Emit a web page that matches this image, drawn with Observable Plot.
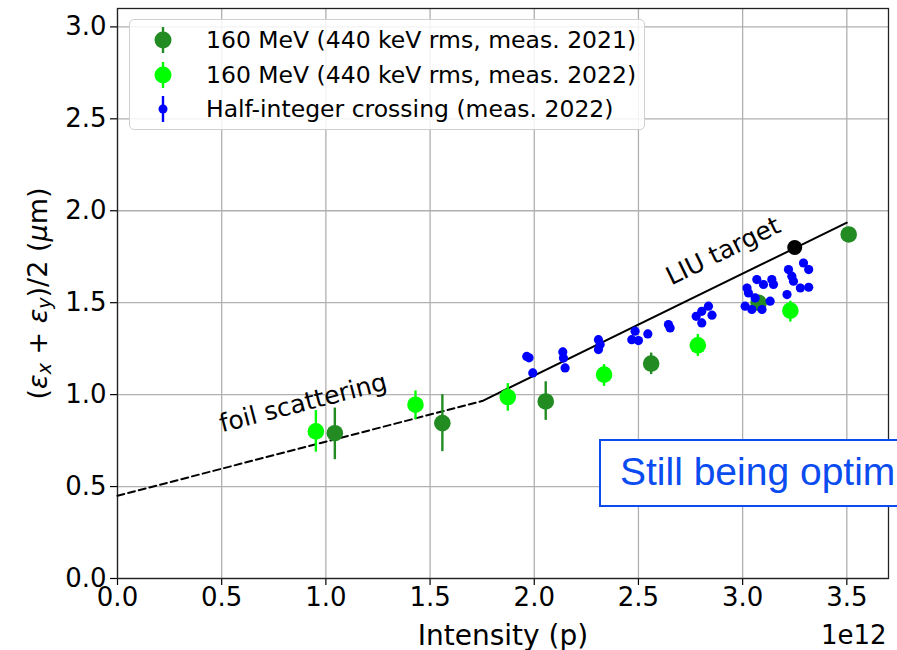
<!DOCTYPE html>
<html><head><meta charset="utf-8">
<script src="https://cdn.jsdelivr.net/npm/d3@7"></script>
<script src="https://cdn.jsdelivr.net/npm/@observablehq/plot@0.6"></script>
<style>
html,body{margin:0;padding:0;background:#fff;overflow:hidden;}
#wrap{position:relative;width:897px;height:650px;overflow:hidden;font-family:"DejaVu Sans",sans-serif;}
#legend{position:absolute;left:129px;top:19px;width:516px;height:111px;border:1.3px solid #d0d0d0;border-radius:5px;background:rgba(255,255,255,0.85);box-sizing:border-box;}
.row{position:absolute;left:0;height:30px;display:flex;align-items:center;font-size:23.5px;color:#000;white-space:nowrap;}
.row svg{width:40px;height:30px;margin-left:13px;margin-right:23px;}
#note{position:absolute;left:599px;top:439px;width:400px;height:68px;border:2px solid #0a4cf0;border-right:none;background:#fff;box-sizing:border-box;font-family:"Liberation Sans",Arial,sans-serif;font-size:39px;color:#0a4cf0;line-height:62px;padding-left:19px;white-space:nowrap;}
</style></head>
<body><div id="wrap"></div>
<script>
// ---- data (intensity in 1e12 p, emittance in um) ----
const g21I  = [1.043, 1.559, 2.055, 2.561, 3.077, 3.509];
const g21E  = [0.790, 0.845, 0.963, 1.169, 1.499, 1.871];
const g21Lo = [0.646, 0.690, 0.860, 1.109, 1.460, 1.871];
const g21Hi = [0.927, 1.000, 1.070, 1.226, 1.540, 1.871];

const g22I  = [0.952, 1.430, 1.873, 2.335, 2.785, 3.229];
const g22E  = [0.800, 0.945, 0.987, 1.109, 1.268, 1.457];
const g22Lo = [0.687, 0.864, 0.910, 1.045, 1.208, 1.395];
const g22Hi = [0.913, 1.020, 1.060, 1.163, 1.327, 1.508];

const hiI = [1.964,1.975,1.993,2.137,2.140,2.148,2.308,2.316,2.308,2.484,2.468,2.500,2.545,2.644,2.652,
             2.777,2.804,2.836,2.853,2.804,3.021,3.068,3.028,3.060,3.012,3.044,3.093,3.100,3.140,3.148,
             3.132,3.220,3.236,3.244,3.213,3.292,3.317,3.277,3.317];
const hiE = [1.208,1.200,1.118,1.232,1.199,1.145,1.299,1.272,1.245,1.345,1.299,1.294,1.330,1.381,1.363,
             1.426,1.453,1.481,1.432,1.390,1.580,1.626,1.553,1.526,1.481,1.463,1.463,1.599,1.626,1.599,
             1.508,1.680,1.644,1.617,1.544,1.716,1.680,1.580,1.584];
const hiErr = 0.02;

const foilI = [0, 1.75];
const foilE = [0.45, 0.965];
const liuI  = [1.75, 3.5];
const liuE  = [0.965, 1.935];
const liuPointI = [3.25];
const liuPointE = [1.80];

const xTicks = [0, 0.5, 1.0, 1.5, 2.0, 2.5, 3.0, 3.5];
const yTicks = [0, 0.5, 1.0, 1.5, 2.0, 2.5, 3.0];

const annotations = [
  {x: 0.891, y: 0.954, text: "foil scattering", rotate: -14.5},
  {x: 2.907, y: 1.780, text: "LIU target", rotate: -26}
];

const legendItems = [
  {label: "160 MeV (440 keV rms, meas. 2021)", color: "#228B22", r: 8.5},
  {label: "160 MeV (440 keV rms, meas. 2022)", color: "#00FF00", r: 8.5},
  {label: "Half-integer crossing (meas. 2022)", color: "#0000FF", r: 4.5}
];

// ---- tables ----
const g21 = g21I.map((x,i)=>({x, y:g21E[i], lo:g21Lo[i], hi:g21Hi[i]}));
const g22 = g22I.map((x,i)=>({x, y:g22E[i], lo:g22Lo[i], hi:g22Hi[i]}));
const hi  = hiI.map((x,i)=>({x, y:hiE[i], lo:hiE[i]-hiErr, hi:hiE[i]+hiErr}));
const foil = foilI.map((x,i)=>({x, y:foilE[i]}));
const liu  = liuI.map((x,i)=>({x, y:liuE[i]}));
const liuPt = liuPointI.map((x,i)=>({x, y:liuPointE[i]}));

const fmt = d => d.toFixed(1);

const plot = Plot.plot({
  width: 897, height: 650,
  marginLeft: 117, marginRight: 9, marginTop: 8, marginBottom: 72,
  style: {fontFamily: "DejaVu Sans", fontSize: "26px", color: "#000", background: "#fff"},
  x: {domain: [0, 3.7]},
  y: {domain: [0, 3.1]},
  marks: [
    Plot.gridX(xTicks, {stroke: "#b0b0b0", strokeOpacity: 1, strokeWidth: 1.3}),
    Plot.gridY(yTicks, {stroke: "#b0b0b0", strokeOpacity: 1, strokeWidth: 1.3}),
    Plot.axisX({ticks: xTicks, tickFormat: fmt, label: null, tickSize: 7, tickPadding: 2, fontSize: 26, strokeWidth: 1.2}),
    Plot.axisY({ticks: yTicks, tickFormat: fmt, label: null, tickSize: 7, tickPadding: 4, fontSize: 26, strokeWidth: 1.2}),
    Plot.frame({stroke: "#222", strokeWidth: 1.3}),
    Plot.line(foil, {x: "x", y: "y", stroke: "#000", strokeWidth: 2, strokeDasharray: "7,4"}),
    Plot.line(liu, {x: "x", y: "y", stroke: "#000", strokeWidth: 2}),
    Plot.ruleX(g21, {x: "x", y1: "lo", y2: "hi", stroke: "#228B22", strokeWidth: 2.4}),
    Plot.dot(g21, {x: "x", y: "y", r: 8.3, fill: "#228B22"}),
    Plot.ruleX(g22, {x: "x", y1: "lo", y2: "hi", stroke: "#00FF00", strokeWidth: 2.4}),
    Plot.dot(g22, {x: "x", y: "y", r: 8.3, fill: "#00FF00"}),
    Plot.ruleX(hi, {x: "x", y1: "lo", y2: "hi", stroke: "#0000FF", strokeWidth: 2}),
    Plot.dot(hi, {x: "x", y: "y", r: 4.6, fill: "#0000FF"}),
    Plot.dot(liuPt, {x: "x", y: "y", r: 7.5, fill: "#000"}),
    Plot.text(annotations, {x: "x", y: "y", text: "text", rotate: "rotate", fontSize: 25, fill: "#000"}),
    Plot.text(["Intensity (p)"], {frameAnchor: "bottom", textAnchor: "middle", lineAnchor: "bottom", dy: 66, fontSize: 28, fill: "#000"}),
    Plot.text(["1e12"], {frameAnchor: "bottom-right", textAnchor: "end", lineAnchor: "bottom", dy: 65, dx: -2, fontSize: 26, fill: "#000"}),
    Plot.text(["__YLABEL__"], {frameAnchor: "left", textAnchor: "middle", rotate: -90, dx: -79, fontSize: 27, fill: "#000"})
  ]
});

// rich y label with subscripts
d3.select(plot).selectAll("text").filter(function(){ return this.textContent === "__YLABEL__"; })
  .each(function(){
    const t = d3.select(this);
    t.text(null);
    const parts = [
      ["(", null], ["ε", "it"], ["x", "sub"], [" + ", null], ["ε", "it"], ["y", "sub"], [")/2 (", null], ["μ", "it"], ["m)", null]
    ];
    for (const [s, kind] of parts) {
      const sp = t.append("tspan").text(s);
      if (kind === "sub") sp.attr("baseline-shift", "-22%").attr("font-size", 19).attr("font-style", "italic");
      if (kind === "it") sp.attr("font-style", "italic");
    }
  });

const wrap = document.getElementById("wrap");
wrap.appendChild(plot);

// legend
const leg = document.createElement("div");
leg.id = "legend";
legendItems.forEach((it, i) => {
  const row = document.createElement("div");
  row.className = "row";
  row.style.top = (5 + i * 34.7) + "px";
  const ns = "http://www.w3.org/2000/svg";
  const s = document.createElementNS(ns, "svg");
  const l = document.createElementNS(ns, "line");
  l.setAttribute("x1", 20); l.setAttribute("x2", 20);
  l.setAttribute("y1", 2); l.setAttribute("y2", 28);
  l.setAttribute("stroke", it.color); l.setAttribute("stroke-width", 2.4);
  const c = document.createElementNS(ns, "circle");
  c.setAttribute("cx", 20); c.setAttribute("cy", 15); c.setAttribute("r", it.r);
  c.setAttribute("fill", it.color);
  s.appendChild(l); s.appendChild(c);
  row.appendChild(s);
  const span = document.createElement("span");
  span.textContent = it.label;
  row.appendChild(span);
  leg.appendChild(row);
});
wrap.appendChild(leg);

// note box (cut at the right edge, as in the original slide)
const note = document.createElement("div");
note.id = "note";
note.textContent = "Still being optim";
wrap.appendChild(note);
</script>
</body></html>
